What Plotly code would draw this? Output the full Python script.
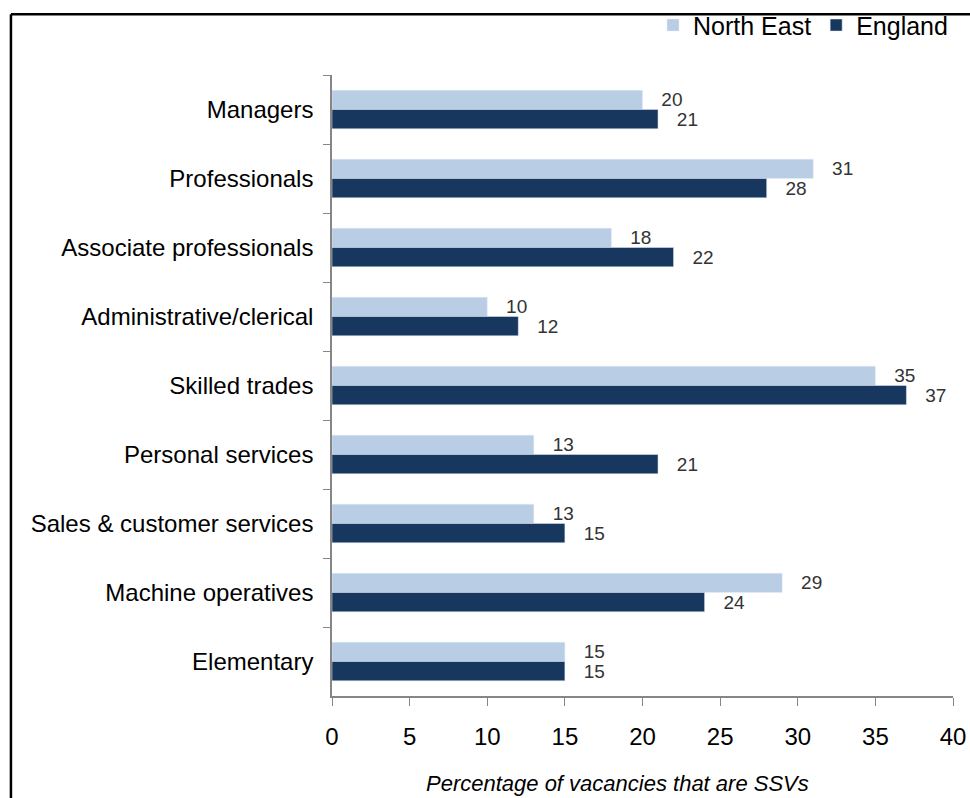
import plotly.graph_objects as go

# Occupation groups, top to bottom
categories = [
    "Managers",
    "Professionals",
    "Associate professionals",
    "Administrative/clerical",
    "Skilled trades",
    "Personal services",
    "Sales & customer services",
    "Machine operatives",
    "Elementary",
]

# Skill-shortage vacancies as a share of all vacancies (%)
north_east = [20, 31, 18, 10, 35, 13, 13, 29, 15]
england = [21, 28, 22, 12, 37, 21, 15, 24, 15]

x_ticks = [0, 5, 10, 15, 20, 25, 30, 35, 40]

FONT = "Liberation Sans, Arial, sans-serif"
LABEL_TEMPLATE = "\u00a0\u00a0\u00a0%{x}"

fig = go.Figure()
for name, values, color in [
    ("North East", north_east, "#B9CDE5"),
    ("England", england, "#17375E"),
]:
    fig.add_trace(go.Bar(
        name=name,
        y=categories,
        x=values,
        orientation="h",
        marker=dict(color=color),
        text=values,
        texttemplate=LABEL_TEMPLATE,
        textposition="outside",
        constraintext="none",
        textfont=dict(family=FONT, size=19, color="#333333"),
        cliponaxis=False,
    ))

fig.update_layout(
    width=970,
    height=798,
    margin=dict(l=332, r=17, t=75, b=102, autoexpand=False),
    paper_bgcolor="white",
    plot_bgcolor="white",
    barmode="group",
    bargap=0.44,
    bargroupgap=0,
    font=dict(family=FONT, color="black"),
    legend=dict(
        orientation="h",
        x=1.0,
        xanchor="right",
        y=1.08,
        yanchor="middle",
        font=dict(family=FONT, size=25, color="black"),
        bgcolor="rgba(0,0,0,0)",
        traceorder="normal",
    ),
    xaxis=dict(
        range=[0, 40],
        tickvals=x_ticks,
        ticktext=[str(v) for v in x_ticks],
        showgrid=False,
        zeroline=False,
        showline=True,
        linecolor="#868686",
        linewidth=1.5,
        ticks="outside",
        ticklen=8,
        tickcolor="#868686",
        ticklabelstandoff=10,
        tickfont=dict(family=FONT, size=24, color="black"),
    ),
    yaxis=dict(
        autorange="reversed",
        showgrid=False,
        zeroline=False,
        showline=True,
        linecolor="#868686",
        linewidth=1.5,
        ticks="outside",
        tickson="boundaries",
        ticklen=7,
        tickcolor="#868686",
        ticklabelstandoff=12,
        tickfont=dict(family=FONT, size=24, color="black"),
    ),
    annotations=[
        # x-axis title
        dict(
            text="<i>Percentage of vacancies that are SSVs</i>",
            xref="paper", yref="paper",
            x=0.46, y=-0.141,
            xanchor="center", yanchor="middle",
            showarrow=False,
            font=dict(family=FONT, size=22, color="black"),
        ),
    ],
    shapes=[
        # outer frame: top and left edges
        dict(type="line", xref="paper", yref="paper",
             x0=-0.517, x1=1.06, y0=1.098, y1=1.098,
             line=dict(color="black", width=2.5)),
        dict(type="line", xref="paper", yref="paper",
             x0=-0.517, x1=-0.517, y0=1.098, y1=-0.2,
             line=dict(color="black", width=2.5)),
    ],
)

fig.write_html("out.html")
